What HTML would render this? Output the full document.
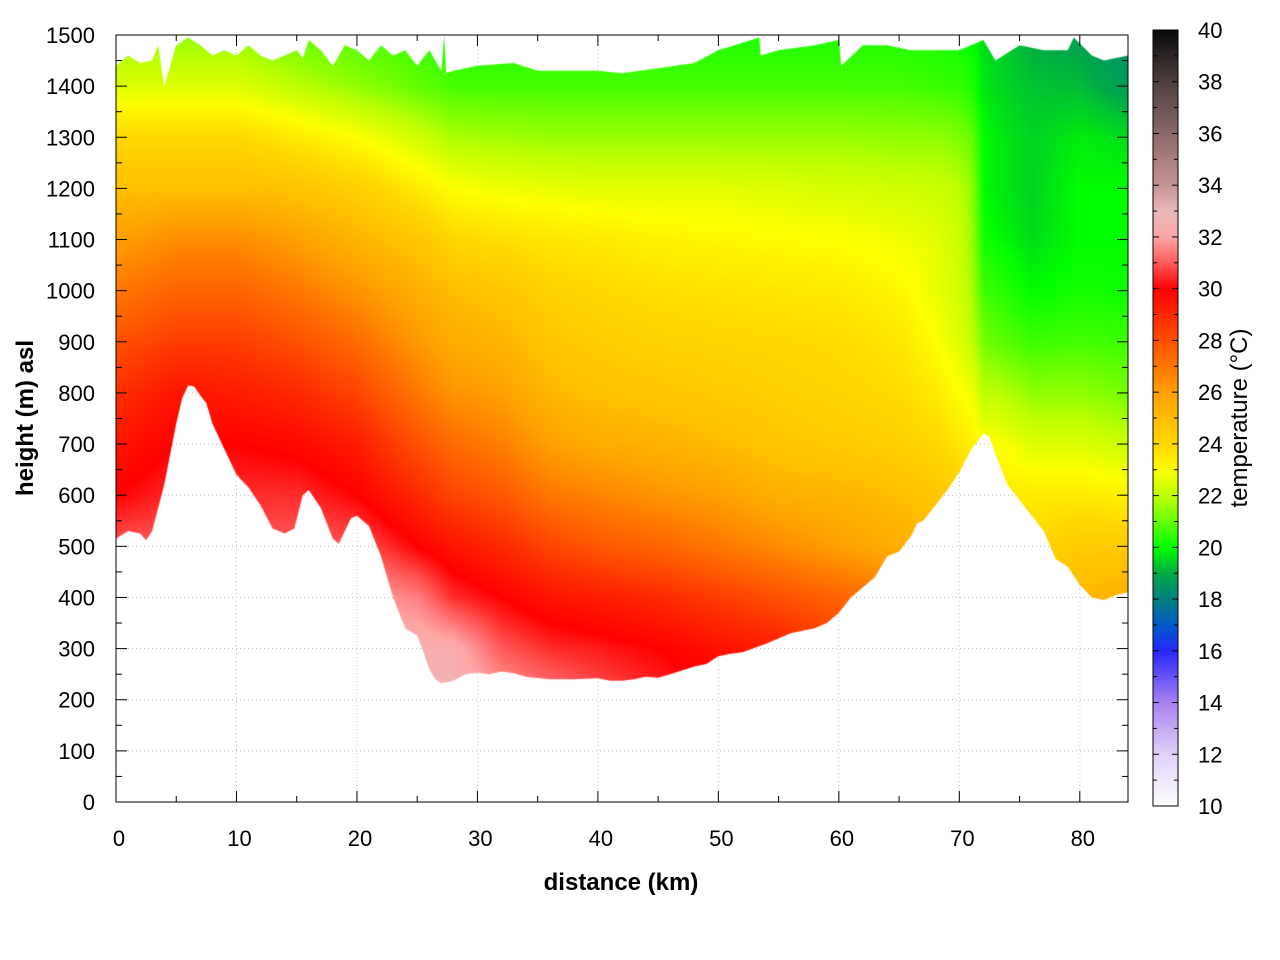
<!DOCTYPE html>
<html><head><meta charset="utf-8"><style>
body{margin:0;background:#fff;width:1280px;height:960px;overflow:hidden;position:relative;font-family:"Liberation Sans",sans-serif}
svg,canvas{position:absolute;left:0;top:0}
</style></head><body>
<svg id="grid" width="1280" height="960"></svg>
<canvas id="cv" width="1280" height="960"></canvas>
<svg id="ax" width="1280" height="960"></svg>
<script>
const colKm=[0,5,10,15,20,25,28,32,36,40,45,50,55,60,65,68,70,71,72,73,76,80,84];
const rowH=[200,300,400,500,600,700,800,900,1000,1100,1200,1300,1400,1500];
const temps=[
[32.5,32.3,32,31,30,29.5,28.8,28,27,26,25,24,22.5,21.5],
[32.5,32.3,32,31,30.5,30,29.5,28.5,27.5,26.5,25,24,22.5,21.5],
[32.5,32.3,32,31,30.5,30,29.3,28.5,27.5,26.5,25,24,22.5,21.5],
[32.5,32.3,32,31,30.5,29.8,29,28,27,26,24.8,23.5,22,21],
[32.5,32.3,32,31,30,29.3,28.3,27.3,26.3,25.3,24.3,23,21.5,20.8],
[32.7,32.5,31.5,30,29,28,27,26.2,25.5,24.7,23.5,22.3,21,20.5],
[32.7,32.3,30.5,29.5,28.3,27.3,26.3,25.6,25,24,23,21.8,20.7,20.3],
[32,31,30,29,27.8,26.8,26,25.3,24.7,23.8,22.8,21.7,20.7,20.3],
[31.5,30.5,29.5,28.3,27,26,25.2,24.7,24.2,23.6,22.7,21.6,20.7,20.3],
[31,30.3,29.3,27.8,26.7,25.6,24.9,24.4,24,23.5,22.6,21.6,20.7,20.3],
[30.5,30,29,27.5,26.3,25.4,24.7,24.2,23.8,23.3,22.6,21.6,20.7,20.3],
[30,29.6,28.5,27,26,25.1,24.5,24.1,23.7,23.2,22.6,21.6,20.7,20.3],
[29.5,29.3,28,26.5,25.5,24.7,24.3,24,23.6,23.1,22.5,21.6,20.7,20.3],
[29,28.5,27.5,26,25.3,24.5,24.1,23.9,23.5,23,22.4,21.6,20.7,20.3],
[28,27.5,27,25.5,25,24.3,23.9,23.6,23.2,22.8,22.3,21.5,20.7,20.3],
[27,26.5,26,25.3,24.7,24,23.5,23,22.7,22.6,22.2,21.5,20.6,20.2],
[26,25.5,25,24.8,24.3,23.6,23,22.5,22.3,22.2,22,21.3,20.5,20.1],
[25.5,25,24.5,24.4,24,23.4,22.8,22.1,21.8,21.6,21.5,21,20.3,20],
[25,24.5,24,24,23.6,23,22,21.2,20.6,20.2,20,20,19.7,19.6],
[25,24.5,24,24,23.6,23,22,21,20.5,20,19.8,19.8,19.6,19.5],
[25,24.5,24.3,24,23.5,22.5,21.5,20.6,20,19.6,19.5,19.5,19.3,19],
[26,25.5,25.2,24.5,23.5,22.5,21.5,20.7,20.2,20,20,19.8,19.2,18.8],
[26,25.8,25.5,24.5,23.3,22.2,21.2,20.6,20.1,20,20,19.6,18.7,18.3]];
const groundKm=[0,1,2,2.5,3,4,5,5.5,6,6.5,7,7.5,8,9,10,11,12,13,14,14.8,15.5,16,17,18,18.5,19,19.5,20,21,22,23,24,25,25.5,26,26.5,27,28,29,30,31,32,33,34,36,38,40,41,42,43,44,45,46,48,49,50,51,52,54,56,58,59,60,61,62,63,64,65,66,66.5,67,68,69,70,71,72,72.5,73,74,75,76,77,78,79,80,81,82,83,84];
const groundH=[515,530,525,512,530,620,740,790,815,812,795,780,740,690,640,615,580,535,525,535,600,610,575,515,505,530,555,560,540,480,400,340,325,295,260,240,232,237,250,253,250,255,252,245,240,240,242,237,237,240,245,243,250,265,270,285,290,293,310,330,340,350,370,400,420,440,480,490,520,545,550,580,610,645,690,720,715,680,620,590,560,530,475,460,425,400,395,405,410];
const topKm=[0,1,2,3,3.5,4,5,6,7,8,9,10,11,12,13,14,15,15.5,16,17,18,19,20,21,22,23,24,25,26,27,27.25,27.4,28,30,33,35,40,42,45,48,50,53.4,53.5,55,58,60,60.2,62,64,66,68,70,72,73,75,77,79,79.5,81,82,84];
const topH=[1440,1460,1445,1450,1480,1400,1480,1495,1480,1460,1470,1460,1480,1460,1450,1460,1470,1455,1490,1470,1440,1480,1470,1450,1480,1460,1470,1440,1470,1430,1500,1425,1430,1440,1445,1430,1430,1425,1435,1445,1470,1495,1460,1470,1480,1490,1440,1480,1480,1470,1470,1470,1490,1450,1480,1470,1470,1495,1460,1450,1460];
const xTicks=[0,10,20,30,40,50,60,70,80];
const yTicks=[0,100,200,300,400,500,600,700,800,900,1000,1100,1200,1300,1400,1500];
const cbTicks=[10,12,14,16,18,20,22,24,26,28,30,32,34,36,38,40];
const cmapT=[10,12,14,16,17,18,19,20,21,22,23,24,25,26,27,28,29,30,31,32,33,34,36,38,40];
const cmapC=[[255,255,255],[225,210,250],[170,130,240],[40,40,255],[0,90,200],[0,128,128],[0,170,70],[0,255,0],[100,255,0],[190,255,0],[255,255,0],[255,215,0],[255,190,0],[255,160,0],[255,120,0],[255,80,0],[255,40,0],[255,0,0],[255,90,90],[255,165,165],[235,185,185],[200,150,150],[140,105,105],[80,65,65],[10,10,10]];
const X0=116,X1=1128,Y0=802,Y1=35;
const sx=k=>X0+(X1-X0)*k/84, sy=h=>Y0-(Y0-Y1)*h/1500;
const CB={x:1153,w:25,top:30,bot:806};
const cy=t=>CB.bot-(CB.bot-CB.top)*(t-10)/30;
function cmap(t){t=Math.max(10,Math.min(40,t));let i=0;while(i<cmapT.length-2&&t>cmapT[i+1])i++;const f=(t-cmapT[i])/(cmapT[i+1]-cmapT[i]);return cmapC[i].map((c,j)=>c+(cmapC[i+1][j]-c)*f);}
function seg(arr,v){let i=0;while(i<arr.length-2&&v>arr[i+1])i++;let f=(v-arr[i])/(arr[i+1]-arr[i]);return [i,Math.max(0,Math.min(1,f))];}
function temp(k,h){const [i,fx]=seg(colKm,k),[j,fy]=seg(rowH,h);const a=temps[i][j]*(1-fx)+temps[i+1][j]*fx,b=temps[i][j+1]*(1-fx)+temps[i+1][j+1]*fx;return a*(1-fy)+b*fy;}
const NS='http://www.w3.org/2000/svg';
function mk(p,tag,at,txt){const e=document.createElementNS(NS,tag);for(const k in at)e.setAttribute(k,at[k]);if(txt!==undefined)e.textContent=txt;p.appendChild(e);return e;}
const G=document.getElementById('grid'),A=document.getElementById('ax');
xTicks.forEach(v=>{const l=mk(G,'line',{x1:sx(v),x2:sx(v),y1:Y0,y2:Y1,stroke:'#bbb','stroke-dasharray':'1,3'});});
yTicks.forEach(v=>{const l=mk(G,'line',{x1:X0,x2:X1,y1:sy(v),y2:sy(v),stroke:'#bbb','stroke-dasharray':'1,3'});});
const cv=document.getElementById('cv'),ctx=cv.getContext('2d');
const W=X1-X0,H=Y0-Y1,img=ctx.createImageData(W,H);
for(let py=0;py<H;py++){const h=1500*(H-py)/H;for(let px=0;px<W;px++){const k=84*px/W;const c=cmap(temp(k,h));const o=(py*W+px)*4;img.data[o]=c[0];img.data[o+1]=c[1];img.data[o+2]=c[2];img.data[o+3]=255;}}
const off=document.createElement('canvas');off.width=W;off.height=H;off.getContext('2d').putImageData(img,0,0);
ctx.save();ctx.beginPath();
groundKm.forEach((k,i)=>{i?ctx.lineTo(sx(k),sy(groundH[i])):ctx.moveTo(sx(k),sy(groundH[i]));});
for(let i=topKm.length-1;i>=0;i--)ctx.lineTo(sx(topKm[i]),sy(topH[i]));
ctx.closePath();ctx.clip();ctx.drawImage(off,X0,Y1);ctx.restore();
for(let y=CB.top;y<CB.bot;y++){const t=10+30*(CB.bot-y)/(CB.bot-CB.top);const c=cmap(t);ctx.fillStyle=`rgb(${c[0]|0},${c[1]|0},${c[2]|0})`;ctx.fillRect(CB.x,y,CB.w,1);}
const fr=mk(A,'rect',{x:X0,y:Y1,width:X1-X0,height:Y0-Y1,fill:'none',stroke:'#000','stroke-width':1});
for(let v=0;v<=84;v+=5){const L=v%10?6:11;mk(A,'line',{x1:sx(v),x2:sx(v),y1:Y0,y2:Y0-L,stroke:'#000'});mk(A,'line',{x1:sx(v),x2:sx(v),y1:Y1,y2:Y1+L,stroke:'#000'});}
for(let v=0;v<=1500;v+=50){const L=v%100?6:11;mk(A,'line',{x1:X0,x2:X0+L,y1:sy(v),y2:sy(v),stroke:'#000'});mk(A,'line',{x1:X1,x2:X1-L,y1:sy(v),y2:sy(v),stroke:'#000'});}
xTicks.forEach(v=>{const t=mk(A,'text',{x:sx(v)+3,y:846,'text-anchor':'middle','font-size':22},v);});
yTicks.forEach(v=>{const t=mk(A,'text',{x:95,y:sy(v)+8,'text-anchor':'end','font-size':22},v);});
const cbf=mk(A,'rect',{x:CB.x,y:CB.top,width:CB.w,height:CB.bot-CB.top,fill:'none',stroke:'#000'});
for(let v=11;v<40;v++){const L=v%2?4:6;mk(A,'line',{x1:CB.x,x2:CB.x+L,y1:cy(v),y2:cy(v),stroke:'#000'});mk(A,'line',{x1:CB.x+CB.w,x2:CB.x+CB.w-L,y1:cy(v),y2:cy(v),stroke:'#000'});}
cbTicks.forEach(v=>{const t=mk(A,'text',{x:1198,y:cy(v)+8,'font-size':22},v);});
let t=mk(A,'text',{x:621,y:890,'text-anchor':'middle','font-size':24,'font-weight':'bold'},'distance (km)');
t=mk(A,'text',{x:0,y:0,transform:'translate(33,418) rotate(-90)','text-anchor':'middle','font-size':24,'font-weight':'bold'},'height (m) asl');
t=mk(A,'text',{x:0,y:0,transform:'translate(1247,418) rotate(-90)','text-anchor':'middle','font-size':24},'temperature (°C)');
</script></body></html>
